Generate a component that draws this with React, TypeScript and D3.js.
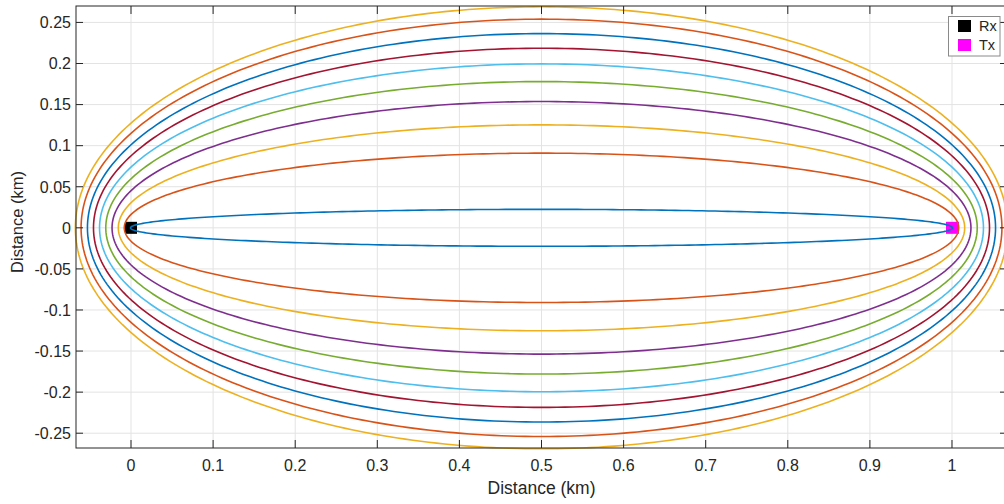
import React from "react";
import * as d3 from "d3";

// Semi-minor axis (km) of each constant bistatic-range contour, innermost first
const contourSemiMinor: number[] = [0.0225, 0.0909, 0.1253, 0.1537, 0.178, 0.1995, 0.2186, 0.2364, 0.254, 0.269];
const contourColors: string[] = ["#0072BD", "#D95319", "#EDB120", "#7E2F8E", "#77AC30", "#4DBEEE", "#A2142F", "#0072BD", "#D95319", "#EDB120"];
// Receiver and transmitter positions (km)
const rxPos: [number, number] = [0, 0];
const txPos: [number, number] = [1, 0];
const legendLabels: string[] = ["Rx", "Tx"];
const legendColors: string[] = ["#000000", "#FF00FF"];
const xTicks: number[] = [0, 0.1, 0.2, 0.3, 0.4, 0.5, 0.6, 0.7, 0.8, 0.9, 1];
const yTicks: number[] = [-0.25, -0.2, -0.15, -0.1, -0.05, 0, 0.05, 0.1, 0.15, 0.2, 0.25];
const xDomain: [number, number] = [-0.067, 1.067];
const yDomain: [number, number] = [-0.268, 0.27];

const W = 1004;
const H = 504;
const left = 76, right = 1007, top = 6, bottom = 448;
const FONT = "'Liberation Sans', Arial, Helvetica, sans-serif";
const AX = "#262626";

const fmt = (v: number) => String(+v.toFixed(2));

export default function App() {
  const x = d3.scaleLinear().domain(xDomain).range([left, right]);
  const y = d3.scaleLinear().domain(yDomain).range([bottom, top]);
  const cx = (rxPos[0] + txPos[0]) / 2;
  const cy = (rxPos[1] + txPos[1]) / 2;
  const c = Math.abs(txPos[0] - rxPos[0]) / 2;
  const angles = d3.range(0, 360, 1).map((d) => (d * Math.PI) / 180);
  const line = d3
    .line<number>()
    .x((t, i) => 0)
    .curve(d3.curveLinearClosed);

  const ellipsePath = (b: number) => {
    const a = Math.sqrt(b * b + c * c);
    const gen = d3
      .line<number>()
      .x((t) => x(cx + a * Math.cos(t)))
      .y((t) => y(cy + b * Math.sin(t)))
      .curve(d3.curveLinearClosed);
    return gen(angles) || "";
  };
  void line;

  const ms = 12;
  return (
    <svg width={W} height={H} style={{ position: "absolute", left: 0, top: 0, background: "#fff" }} fontFamily={FONT}>
      <rect x={0} y={0} width={W} height={H} fill="#fff" />
      {/* grid */}
      <g stroke="#e3e3e3" strokeWidth={1}>
        {xTicks.map((t) => (
          <line key={"gx" + t} x1={x(t)} x2={x(t)} y1={top} y2={bottom} />
        ))}
        {yTicks.map((t) => (
          <line key={"gy" + t} x1={left} x2={right} y1={y(t)} y2={y(t)} />
        ))}
      </g>
      {/* markers */}
      <rect x={x(rxPos[0]) - ms / 2} y={y(rxPos[1]) - ms / 2} width={ms} height={ms} fill={legendColors[0]} />
      <rect x={x(txPos[0]) - ms / 2} y={y(txPos[1]) - ms / 2} width={ms + 1} height={ms} fill={legendColors[1]} />
      {/* contours */}
      <g fill="none" strokeWidth={1.6}>
        {contourSemiMinor.map((b, i) => (
          <path key={"e" + i} d={ellipsePath(b)} stroke={contourColors[i]} />
        ))}
      </g>
      {/* axes box */}
      <rect x={left} y={top} width={right - left} height={bottom - top} fill="none" stroke={AX} strokeWidth={1} />
      <g stroke={AX} strokeWidth={1}>
        {xTicks.map((t) => (
          <g key={"tx" + t}>
            <line x1={x(t)} x2={x(t)} y1={bottom} y2={bottom - 8} />
            <line x1={x(t)} x2={x(t)} y1={top} y2={top + 8} />
          </g>
        ))}
        {yTicks.map((t) => (
          <g key={"ty" + t}>
            <line x1={left} x2={left + 7} y1={y(t)} y2={y(t)} />
            <line x1={right} x2={right - 7} y1={y(t)} y2={y(t)} />
          </g>
        ))}
      </g>
      <g fill={AX} fontSize={16}>
        {xTicks.map((t) => (
          <text key={"lx" + t} x={x(t)} y={470.5} textAnchor="middle">
            {fmt(t)}
          </text>
        ))}
        {yTicks.map((t) => (
          <text key={"ly" + t} x={left - 5} y={y(t) + 5.8} textAnchor="end">
            {fmt(t)}
          </text>
        ))}
      </g>
      <text x={(left + right) / 2} y={494} textAnchor="middle" fontSize={17.5} fill={AX}>
        Distance (km)
      </text>
      <text transform={`translate(23,${(top + bottom) / 2 - 5}) rotate(-90)`} textAnchor="middle" fontSize={16.5} fill={AX}>
        Distance (km)
      </text>
      {/* legend */}
      <rect x={948.5} y={16.5} width={51.5} height={39.5} fill="#fff" stroke="#8a8a8a" strokeWidth={1} />
      {legendLabels.map((lab, i) => (
        <g key={"lg" + i}>
          <rect x={958} y={20 + i * 19} width={13} height={12} fill={legendColors[i]} />
          <text x={979} y={31 + i * 19} fontSize={14.5} fill={AX}>
            {lab}
          </text>
        </g>
      ))}
    </svg>
  );
}
